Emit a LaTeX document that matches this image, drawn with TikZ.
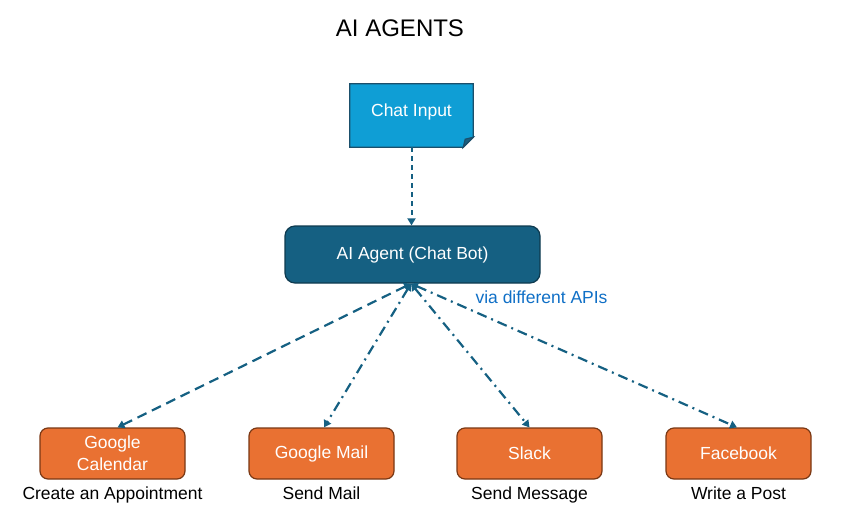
\documentclass[tikz,border=0pt]{standalone}
\usepackage{fontspec}
\setmainfont{Liberation Sans}
\usetikzlibrary{arrows.meta}
\definecolor{cyanbox}{HTML}{0F9ED5}
\definecolor{cyanedge}{HTML}{1B4F6B}
\definecolor{tealbox}{HTML}{156082}
\definecolor{tealedge}{HTML}{0E3A4F}
\definecolor{orangebox}{HTML}{E97132}
\definecolor{orangeedge}{HTML}{7A3814}
\definecolor{apiblue}{HTML}{0F6FC6}
\definecolor{linkcol}{HTML}{156082}
\tikzset{
  txt/.style={font=\fontsize{17.5}{20}\selectfont},
  toolbox/.style={draw=orangeedge, line width=1.2pt, fill=orangebox, rounded corners=8pt,
    minimum width=145pt, minimum height=51pt, text=white, txt, align=center, inner sep=2pt},
  caption/.style={txt, text=black},
  link/.style={draw=linkcol, line width=2.2pt, {Triangle[length=7pt,width=8pt]}-{Triangle[length=7pt,width=8pt]}},
  dashlink/.style={link, dash pattern=on 10pt off 6pt},
  dotlink/.style={link, dash pattern=on 10pt off 5pt on 2pt off 5pt},
}
\begin{document}
\begin{tikzpicture}[x=1pt,y=-1pt]
\useasboundingbox (0,0) rectangle (843,514);
\node[font=\fontsize{24}{28}\selectfont] (title) at (400,28) {AI AGENTS};
% Chat input (document shape)
\node[minimum width=123pt, minimum height=63pt, inner sep=0pt, text=white, txt] (chat) at (411.5,115.5) {};
\fill[cyanbox, draw=cyanedge, line width=1.2pt]
  (chat.north west) -- (chat.north east) -- ([yshift=10pt]chat.south east)
  -- ([xshift=-10pt]chat.south east) -- (chat.south west) -- cycle;
\fill[draw=cyanedge, line width=1.2pt, fill=cyanedge!80!cyanbox]
  ([xshift=-10pt]chat.south east) -- ([xshift=-8pt,yshift=8pt]chat.south east) -- ([yshift=10pt]chat.south east) -- cycle;
\node[txt, text=white] at ([yshift=4pt]chat.center) {Chat Input};
% Agent
\node[draw=tealedge, line width=1.2pt, fill=tealbox, rounded corners=10pt,
  minimum width=255pt, minimum height=57pt, text=white, txt] (agent) at (412.5,254.5) {AI Agent (Chat Bot)};
% tool boxes
\node[toolbox, font=\fontsize{17.5}{22}\selectfont] (b1) at (112.5,453.5) {Google\\Calendar};
\node[toolbox] (b2) at (321.5,453.5) {Google Mail};
\node[toolbox] (b3) at (529.5,453.5) {Slack};
\node[toolbox] (b4) at (738.5,453.5) {Facebook};
% captions
\node[caption, anchor=north] (c1) at ([yshift=-4pt]b1.south) {Create an Appointment};
\node[caption, anchor=north] (c2) at ([yshift=-4pt]b2.south) {Send Mail};
\node[caption, anchor=north] (c3) at ([yshift=-4pt]b3.south) {Send Message};
\node[caption, anchor=north] (c4) at ([yshift=-4pt]b4.south) {Write a Post};
\node[txt, text=apiblue, anchor=west] (api) at (472,297) {via different APIs};
% connectors
\draw[draw=linkcol, line width=2pt, dash pattern=on 5pt off 4pt, -{Triangle[length=7pt,width=8pt]}]
  (chat.south) -- (chat.south |- agent.north);
\coordinate (hub) at ([xshift=-1.5pt]agent.south);
\draw[dashlink] (hub) -- ([xshift=5pt]b1.north);
\draw[dotlink] (hub) -- ([xshift=2.5pt]b2.north);
\draw[dotlink] (hub) -- (b3.north);
\draw[dotlink] (hub) -- ([xshift=-1.5pt]b4.north);
\end{tikzpicture}
\end{document}
